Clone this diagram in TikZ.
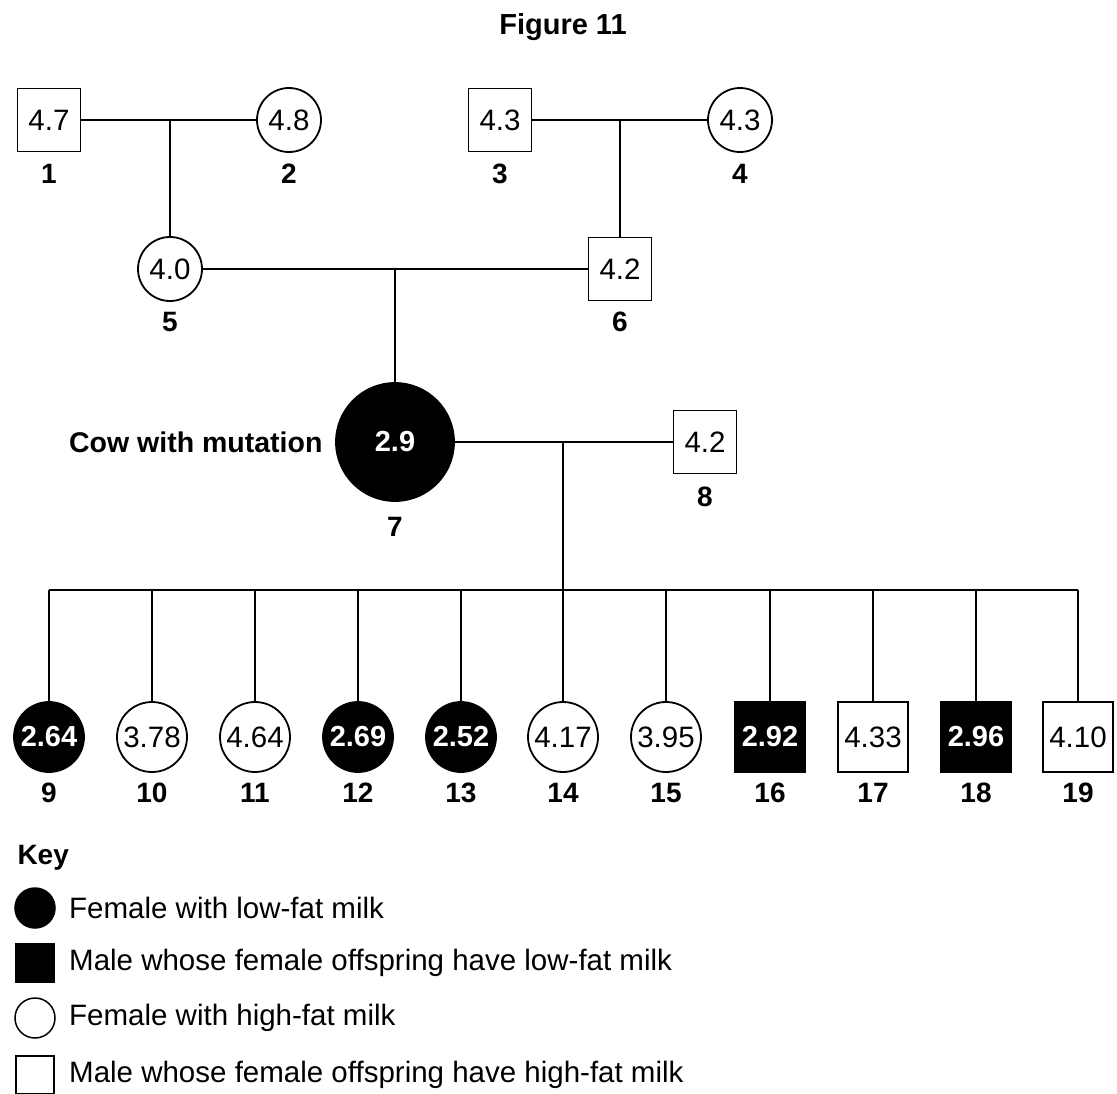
\documentclass[tikz,border=0pt]{standalone}
\usepackage{fontspec}
\setmainfont{Liberation Sans}
\begin{document}
\begin{tikzpicture}[x=1pt,y=-1pt,
  every node/.style={font=\fontsize{29.5}{31}\selectfont},
  male/.style={draw, line width=1.8pt, minimum size=63pt, inner sep=0pt},
  female/.style={draw, circle, line width=1.8pt, minimum size=64pt, inner sep=0pt},
  kmale/.style={male, minimum size=70pt},
  kfemale/.style={female, minimum size=70pt},
  aff/.style={fill=black, text=white, font=\fontsize{29}{31}\selectfont\bfseries},
  lab/.style={font=\fontsize{28}{30}\selectfont\bfseries},
  link/.style={line width=1.3pt},
  keytxt/.style={anchor=west, inner sep=0pt, font=\fontsize{29.5}{31}\selectfont}
]
\useasboundingbox (0,0) rectangle (1117,1093);
\node[font=\fontsize{29}{31}\selectfont\bfseries] (title) at (563,27) {Figure 11};

% generation I
\node[male] (n1) at (49,120) {4.7};
\node[female] (n2) at (289,120) {4.8};
\node[male] (n3) at (500,120) {4.3};
\node[female] (n4) at (740,120) {4.3};
\node[lab] (l1) at (49,174) {1};
\node[lab] (l2) at (289,174) {2};
\node[lab] (l3) at (500,174) {3};
\node[lab] (l4) at (740,174) {4};

% generation II
\node[female] (n5) at (170,269) {4.0};
\node[male] (n6) at (620,269) {4.2};
\node[lab] (l5) at (170,322) {5};
\node[lab] (l6) at (620,322) {6};

% generation III
\node[female, aff, minimum size=118pt] (n7) at (395,442) {2.9};
\node[male] (n8) at (705,442) {4.2};
\node[lab] (l7) at (395,527) {7};
\node[lab] (l8) at (705,497) {8};
\node[lab, anchor=east, font=\fontsize{28.5}{30}\selectfont\bfseries] (cow) at (326,442) {Cow with mutation};

% junctions
\coordinate (j12) at (170,120);
\coordinate (j34) at (620,120);
\coordinate (j56) at (395,269);
\coordinate (j78) at (563,442);
\coordinate (sib) at (563,590);

\draw[link] (n1.east) -- (n2.west);
\draw[link] (j12) -- (n5.north);
\draw[link] (n3.east) -- (n4.west);
\draw[link] (j34) -- (n6.north);
\draw[link] (n5.east) -- (n6.west);
\draw[link] (j56) -- (n7.north);
\draw[link] (n7.east) -- (n8.west);
\draw[link] (j78) -- (sib);

% generation IV
\node[kfemale, aff] (c9) at (49,737) {2.64};
\node[kfemale] (c10) at (152,737) {3.78};
\node[kfemale] (c11) at (255,737) {4.64};
\node[kfemale, aff] (c12) at (358,737) {2.69};
\node[kfemale, aff] (c13) at (461,737) {2.52};
\node[kfemale] (c14) at (563,737) {4.17};
\node[kfemale] (c15) at (666,737) {3.95};
\node[kmale, aff] (c16) at (770,737) {2.92};
\node[kmale] (c17) at (873,737) {4.33};
\node[kmale, aff] (c18) at (976,737) {2.96};
\node[kmale] (c19) at (1078,737) {4.10};
\foreach \i in {9,...,19} {
  \node[lab] (l\i) at (c\i |- 0,793) {\i};
  \draw[link] (c\i |- sib) -- (c\i.north);
}
\draw[link] (c9 |- sib) -- (c19 |- sib);

% key
\node[lab, anchor=west] (key) at (14,858) {Key};
\node[draw, circle, fill=black, minimum width=38pt, minimum height=40pt, inner sep=0pt, line width=1.5pt] (k1) at (35,908) {};
\node[draw, fill=black, minimum size=38pt, inner sep=0pt, line width=1.5pt] (k2) at (35,963) {};
\node[draw, circle, minimum width=38pt, minimum height=40pt, inner sep=0pt, line width=1.5pt] (k3) at (35,1018) {};
\node[draw, minimum size=38pt, inner sep=0pt, line width=1.5pt] (k4) at (35,1075) {};
\node[keytxt] (t1) at (69,908) {Female with low-fat milk};
\node[keytxt] (t2) at (69,963) {Male whose female offspring have low-fat milk};
\node[keytxt] (t3) at (69,1018) {Female with high-fat milk};
\node[keytxt] (t4) at (69,1075) {Male whose female offspring have high-fat milk};
\end{tikzpicture}
\end{document}
